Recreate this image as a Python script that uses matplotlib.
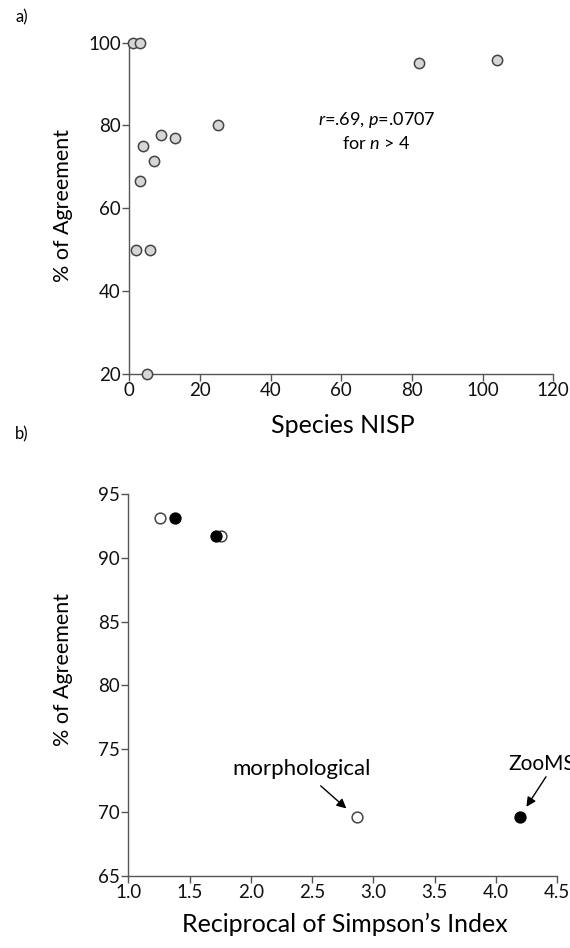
"""Two-panel scatter: % agreement vs species NISP and vs reciprocal Simpson's index."""

import matplotlib

matplotlib.use("Agg")
import matplotlib.pyplot as plt

plt.rcParams["font.family"] = ["Lato", "DejaVu Sans"]
plt.rcParams["mathtext.fontset"] = "custom"
plt.rcParams["mathtext.rm"] = "Lato"
plt.rcParams["mathtext.it"] = "Lato:italic"

# panel a: species NISP vs % of agreement
nisp = [1, 3, 4, 9, 13, 25, 7, 3, 2, 6, 5, 82, 104]
agree_a = [100, 100, 75, 77.8, 77, 80, 71.4, 66.7, 50, 50, 20, 95, 95.8]
xticks_a = [0, 20, 40, 60, 80, 100, 120]
yticks_a = [20, 40, 60, 80, 100]

# panel b: reciprocal of Simpson's index vs % of agreement
morph_simpson = [1.255, 1.755, 2.867]
morph_agree = [93.14, 91.75, 69.63]
zooms_simpson = [1.383, 1.712, 4.20]
zooms_agree = [93.14, 91.75, 69.63]
xticks_b = [1.0, 1.5, 2.0, 2.5, 3.0, 3.5, 4.0, 4.5]
yticks_b = [65, 70, 75, 80, 85, 90, 95]

AXIS_COLOR = "#555555"


def style_axes(ax, labelsize):
    for side in ("top", "right"):
        ax.spines[side].set_visible(False)
    for side in ("left", "bottom"):
        ax.spines[side].set_color(AXIS_COLOR)
        ax.spines[side].set_linewidth(1.0)
    ax.tick_params(direction="out", length=5, width=1.0, color=AXIS_COLOR,
                   labelsize=labelsize, pad=1, labelcolor="#111111")


fig = plt.figure(figsize=(5.7, 9.48), dpi=100)

# ---- panel a ----
ax_a = fig.add_axes([0.2268, 0.6055, 0.7439, 0.3495])
ax_a.scatter(nisp, agree_a, s=55, facecolor="#d6d6d6", edgecolor="#454545",
             linewidth=1.1, clip_on=False, zorder=3)
ax_a.set_xlim(0, 120)
ax_a.set_ylim(20, 100)
ax_a.set_xticks(xticks_a)
ax_a.set_yticks(yticks_a)
style_axes(ax_a, 13.5)
ax_a.set_xlabel("Species NISP", fontsize=18)
ax_a.set_ylabel("% of Agreement", fontsize=15.5)
ax_a.xaxis.set_label_coords(0.504, -0.121)
ax_a.yaxis.set_label_coords(-0.132, 0.51)
ax_a.text(70, 81.4, "$r$=.69, $p$=.0707", ha="center", va="center", fontsize=13)
ax_a.text(70, 75.6, "for $n$ > 4", ha="center", va="center", fontsize=13)

# ---- panel b ----
ax_b = fig.add_axes([0.2253, 0.0759, 0.7519, 0.4027])
ax_b.scatter(morph_simpson, morph_agree, s=60, facecolor="white",
             edgecolor="#454545", linewidth=1.1, clip_on=False, zorder=3)
ax_b.scatter(zooms_simpson, zooms_agree, s=60, facecolor="black",
             edgecolor="black", linewidth=1.1, clip_on=False, zorder=4)
ax_b.set_xlim(1.0, 4.5)
ax_b.set_ylim(65, 95)
ax_b.set_xticks(xticks_b)
ax_b.set_yticks(yticks_b)
ax_b.xaxis.set_major_formatter(matplotlib.ticker.FormatStrFormatter("%.1f"))
style_axes(ax_b, 13.5)
ax_b.set_xlabel("Reciprocal of Simpson\u2019s Index", fontsize=18)
ax_b.set_ylabel("% of Agreement", fontsize=15.5)
ax_b.xaxis.set_label_coords(0.504, -0.095)
ax_b.yaxis.set_label_coords(-0.1286, 0.542)

arrow = dict(arrowstyle="-|>", color="black", lw=1.0, mutation_scale=14,
             shrinkA=0, shrinkB=0)
ax_b.annotate("", xy=(2.78, 70.31), xytext=(2.57, 72.09), arrowprops=arrow)
ax_b.text(2.41, 73.4, "morphological", ha="center", va="center", fontsize=16)
ax_b.annotate("", xy=(4.25, 70.44), xytext=(4.41, 72.8), arrowprops=arrow,
              annotation_clip=False)
# the reference lets this label run just past the right edge of the figure
ax_b.text(4.105, 73.8, "ZooMS", ha="left", va="center", fontsize=15,
          clip_on=False)

fig.text(15 / 570, 1 - 17 / 948, "a)", ha="left", va="center", fontsize=12)
fig.text(15 / 570, 1 - 434 / 948, "b)", ha="left", va="center", fontsize=12)

fig.savefig("out.png", dpi=100)
